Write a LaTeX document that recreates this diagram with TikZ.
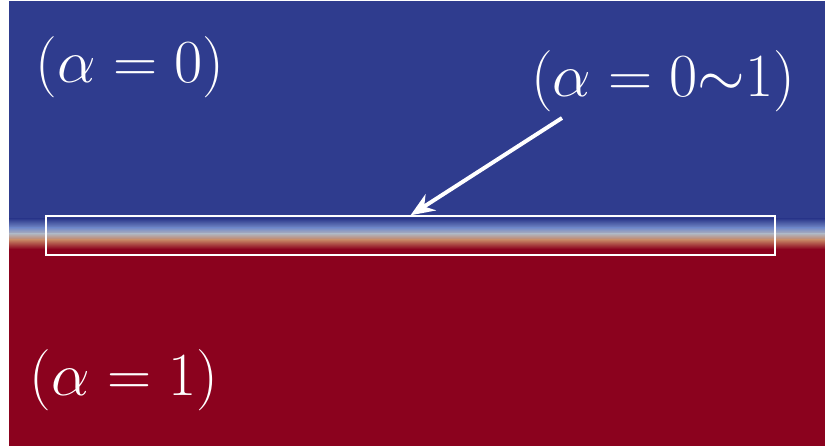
\documentclass[tikz,border=0pt]{standalone}
\usepackage{tikz}
\usetikzlibrary{arrows.meta,positioning,calc}
\usepackage{xcolor}
\definecolor{gasblue}{RGB}{47,60,142}
\definecolor{liqred}{RGB}{139,2,30}
\definecolor{lblue}{RGB}{118,140,200}
\definecolor{mgray}{RGB}{178,178,186}
\definecolor{salmon}{RGB}{196,128,98}

\begin{document}
\begin{tikzpicture}[x=0.025cm, y=-0.025cm,
  lbl/.style={text=white, font=\huge, scale=2.1, inner sep=0pt},
  band/.style={draw=white, line width=1pt, minimum width=729*0.025cm, minimum height=39*0.025cm, inner sep=0pt},
  arr/.style={-{Stealth[length=6mm, width=4.8mm]}, white, line width=2.8pt}]
\useasboundingbox (0,0) rectangle (825,446);

%% ── phase field ─────────────────────────────────────────
\fill[gasblue] (9,1) rectangle (825,219);
\shade[top color=gasblue, bottom color=lblue] (9,219) rectangle (825,228);
\shade[top color=lblue, bottom color=mgray] (9,228) rectangle (825,234);
\shade[top color=mgray, bottom color=salmon] (9,234) rectangle (825,240);
\shade[top color=salmon, bottom color=liqred] (9,240) rectangle (825,249);
\fill[liqred] (9,249) rectangle (825,446);

%% ── labels ──────────────────────────────────────────────
\node[lbl] (gas) at (130,67) {$(\alpha = 0)$};
\node[lbl] (mix) at (663,81) {$(\alpha = 0{\sim}1)$};
\node[lbl] (liq) at (124,380) {$(\alpha = 1)$};

%% ── interface box and pointer ───────────────────────────
\node[band] (iface) at (410.5,235.5) {};
\coordinate (tail) at (562,118);
\draw[arr] (tail) -- (iface.north);
\end{tikzpicture}
\end{document}
